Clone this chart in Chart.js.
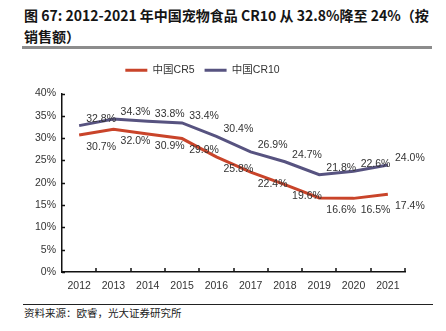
<!DOCTYPE html>
<html>
<head>
<meta charset="utf-8">
<script src="https://cdn.jsdelivr.net/npm/chart.js@4.4.0/dist/chart.umd.min.js"></script>
<style>
  body { margin: 0; background: #fff; width: 446px; height: 331px; position: relative; overflow: hidden; font-family: "Noto Sans CJK SC", sans-serif; }
  #title { position: absolute; left: 24px; top: 5px; font-size: 14px; font-weight: bold; line-height: 21px; color: #151515; white-space: nowrap; }
  #rule { position: absolute; left: 22px; top: 46px; width: 410px; height: 3px; background: #8c8c8c; }
  #wrap { position: absolute; left: 0; top: 50px; width: 446px; height: 250px; }
  #srcline { position: absolute; left: 23px; top: 304px; width: 410px; height: 1px; background: #222; }
  #src { position: absolute; left: 24px; top: 305px; font-size: 10.5px; line-height: 15px; color: #222; }
</style>
</head>
<body>
<div id="title">图 67: 2012-2021 年中国宠物食品 CR10 从 32.8%降至 24%（按<br>销售额）</div>
<div id="rule"></div>
<div id="wrap"><canvas id="trendChart" width="446" height="250"></canvas></div>
<div id="srcline"></div>
<div id="src">资料来源：欧睿，光大证券研究所</div>
<script>
// data
const years = ['2012', '2013', '2014', '2015', '2016', '2017', '2018', '2019', '2020', '2021'];
const cr5 = [30.7, 32.0, 30.9, 29.9, 25.8, 22.4, 19.6, 16.6, 16.5, 17.4];
const cr10 = [32.8, 34.3, 33.8, 33.4, 30.4, 26.9, 24.7, 21.8, 22.6, 24.0];
const yMin = 0, yMax = 40, yStep = 5;

const chartFont = "'Liberation Sans Narrow', 'Arial Narrow', 'Liberation Sans', 'Noto Sans CJK SC', sans-serif";

// value labels next to each point
const valueLabels = {
  id: 'valueLabels',
  afterDatasetsDraw(chart) {
    const ctx = chart.ctx;
    ctx.save();
    ctx.font = '10.5px ' + chartFont;
    ctx.fillStyle = '#333';
    ctx.textAlign = 'center';
    ctx.textBaseline = 'middle';
    chart.data.datasets.forEach((ds, i) => {
      const dy = i === 0 ? 12 : -7;
      chart.getDatasetMeta(i).data.forEach((pt, j) => {
        ctx.fillText(ds.data[j].toFixed(1) + '%', pt.x + 22, pt.y + dy);
      });
    });
    ctx.restore();
  }
};

// small tick marks pointing into the plot
const innerTicks = {
  id: 'innerTicks',
  afterDraw(chart) {
    const ctx = chart.ctx, x = chart.scales.x, y = chart.scales.y;
    ctx.save();
    ctx.strokeStyle = '#111';
    ctx.lineWidth = 1.5;
    ctx.beginPath();
    y.ticks.forEach(t => {
      const py = Math.round(y.getPixelForValue(t.value)) + 0.5;
      ctx.moveTo(y.right, py);
      ctx.lineTo(y.right + 3, py);
    });
    for (let i = 1; i <= years.length; i++) {
      const px = Math.round(x.getPixelForValue(i - 0.5));
      ctx.moveTo(px, x.top);
      ctx.lineTo(px, x.top - 4);
    }
    ctx.stroke();
    ctx.restore();
  }
};

// extra room under the legend
const legendGap = {
  id: 'legendGap',
  beforeInit(chart) {
    const fit = chart.legend.fit;
    chart.legend.fit = function () {
      fit.bind(chart.legend)();
      this.height += 8;
    };
  }
};

new Chart(document.getElementById('trendChart'), {
  type: 'line',
  data: {
    labels: years,
    datasets: [{
      label: '中国CR5',
      data: cr5,
      borderColor: '#c9442a',
      backgroundColor: '#c9442a',
      borderWidth: 3,
      pointRadius: 0,
      tension: 0
    }, {
      label: '中国CR10',
      data: cr10,
      borderColor: '#575380',
      backgroundColor: '#575380',
      borderWidth: 3,
      pointRadius: 0,
      tension: 0
    }]
  },
  options: {
    responsive: false,
    animation: false,
    layout: { padding: { top: 5, right: 41, left: 0, bottom: 0 } },
    plugins: {
      legend: {
        position: 'top',
        labels: {
          boxWidth: 22,
          boxHeight: 3,
          padding: 10,
          color: '#333',
          font: { size: 10.5, family: chartFont },
          generateLabels: c => Chart.defaults.plugins.legend.labels.generateLabels(c).map(l => ({ ...l, lineWidth: 0 }))
        }
      },
      tooltip: { enabled: false }
    },
    scales: {
      x: {
        offset: true,
        grid: { display: false, drawTicks: false },
        border: { color: '#111', width: 1.5 },
        ticks: { color: '#333', padding: 8, font: { size: 10.5, family: chartFont } },
        afterFit: s => { s.height = 28; }
      },
      y: {
        min: yMin,
        max: yMax,
        grid: { display: false, drawTicks: false },
        border: { color: '#111', width: 1.5 },
        ticks: { stepSize: yStep, color: '#333', padding: 6, font: { size: 10.5, family: chartFont }, callback: v => v + '%' },
        afterFit: s => { s.width = 62; }
      }
    }
  },
  plugins: [valueLabels, innerTicks, legendGap]
});
</script>
</body>
</html>
